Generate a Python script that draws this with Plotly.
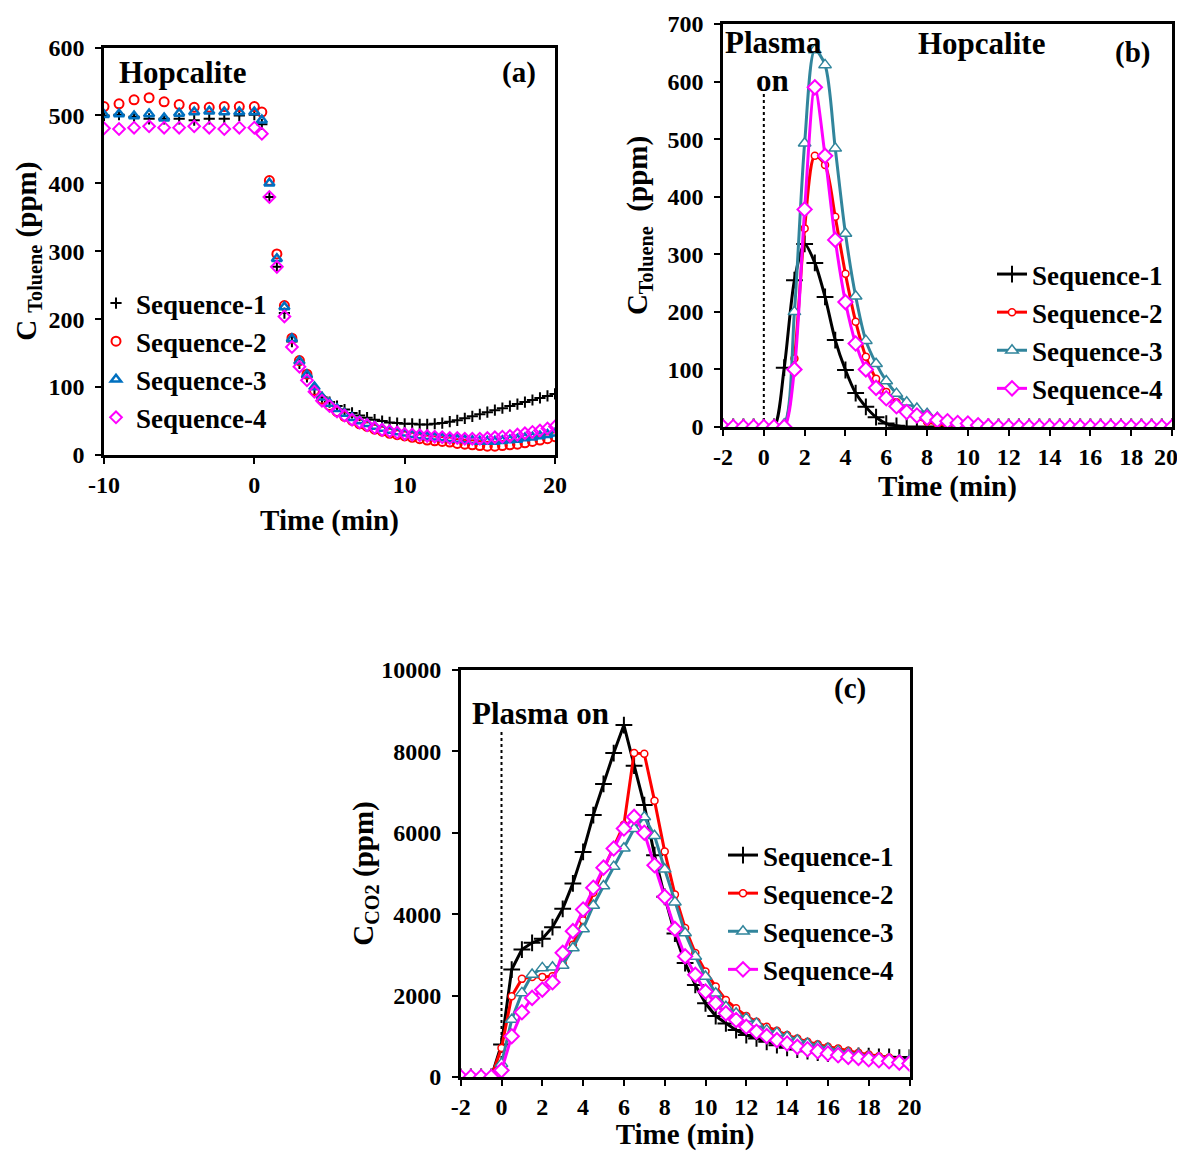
import plotly.graph_objects as go

# ---------------- data ----------------
# Panel (a): toluene concentration, Hopcalite
time_a = [-10, -9, -8, -7, -6, -5, -4, -3, -2, -1, 0,
          0.5, 1.0, 1.5, 2.0, 2.5, 3.0, 3.5, 4.0, 4.5, 5.0,
          5.5, 6.0, 6.5, 7.0, 7.5, 8.0, 8.5, 9.0, 9.5, 10.0,
          10.5, 11.0, 11.5, 12.0, 12.5, 13.0, 13.5, 14.0, 14.5, 15.0,
          15.5, 16.0, 16.5, 17.0, 17.5, 18.0, 18.5, 19.0, 19.5, 20.0]
seq1_a = [500, 501, 498, 495, 495, 495, 493, 495, 495, 500, 501,
          487, 380, 277, 209, 167, 135, 115, 97, 85, 78,
          72, 67, 62, 58, 55, 52, 50, 48, 47, 46,
          46, 45, 45, 46, 47, 49, 51, 54, 57, 60,
          63, 66, 69, 72, 75, 78, 81, 84, 87, 90]
seq2_a = [513, 517, 523, 526, 520, 516, 512, 512, 513, 513, 513,
          505, 404, 296, 220, 172, 139, 119, 95, 82, 73,
          64, 57, 51, 46, 42, 38, 35, 32, 30, 28,
          26, 24, 22, 21, 20, 19, 17, 16, 15, 14,
          13, 13, 14, 15, 16, 18, 20, 22, 24, 27]
seq3_a = [501, 502, 499, 502, 496, 503, 505, 506, 505, 505, 505,
          493, 400, 289, 218, 171, 138, 118, 100, 85, 76,
          68, 61, 55, 50, 46, 42, 39, 36, 34, 32,
          30, 28, 27, 26, 25, 24, 23, 22, 21, 20,
          20, 20, 21, 22, 23, 25, 26, 28, 30, 32]
seq4_a = [481, 480, 482, 484, 482, 482, 484, 482, 480, 482, 482,
          473, 380, 277, 204, 159, 130, 110, 93, 80, 72,
          64, 58, 52, 48, 44, 40, 37, 35, 33, 31,
          30, 29, 28, 27, 26, 25, 25, 24, 24, 24,
          25, 26, 27, 28, 30, 32, 34, 36, 39, 42]

# Panels (b) and (c): time after plasma on
time_bc = [-2.0, -1.5, -1.0, -0.5, 0.0, 0.5, 1.0, 1.5, 2.0, 2.5,
           3.0, 3.5, 4.0, 4.5, 5.0, 5.5, 6.0, 6.5, 7.0, 7.5,
           8.0, 8.5, 9.0, 9.5, 10.0, 10.5, 11.0, 11.5, 12.0, 12.5,
           13.0, 13.5, 14.0, 14.5, 15.0, 15.5, 16.0, 16.5, 17.0, 17.5,
           18.0, 18.5, 19.0, 19.5, 20.0]

# Panel (b): toluene (ppm)
seq1_b = [0, 0, 0, 0, 0, 0, 103, 255, 318, 285,
          226, 151, 99, 59, 35, 17, 6, 2, 0, 0,
          0, 0, 0, 0, 0, 0, 0, 0, 0, 0,
          0, 0, 0, 0, 0, 0, 0, 0, 0, 0,
          0, 0, 0, 0, 0]
seq2_b = [0, 0, 0, 0, 0, 0, 3, 119, 345, 471,
          455, 365, 266, 183, 122, 84, 61, 43, 28, 16,
          9, 5, 3, 1, 0, 0, 0, 0, 0, 0,
          0, 0, 0, 0, 0, 0, 0, 0, 0, 0,
          0, 0, 0, 0, 0]
seq3_b = [0, 0, 0, 0, 0, 0, 5, 200, 493, 655,
          629, 484, 336, 227, 150, 110, 80, 58, 43, 32,
          23, 16, 11, 7, 4, 2, 1, 0, 0, 0,
          0, 0, 0, 0, 0, 0, 0, 0, 0, 0,
          0, 0, 0, 0, 0]
seq4_b = [0, 0, 0, 0, 0, 0, 0, 100, 378, 590,
          471, 325, 217, 145, 100, 68, 50, 36, 26, 20,
          16, 12, 10, 7, 6, 3, 1, 0, 0, 0,
          0, 0, 0, 0, 0, 0, 0, 0, 0, 0,
          0, 0, 0, 0, 0]

# Panel (c): CO2 (ppm)
seq1_c = [0, 0, 0, 0, 800, 2640, 3132, 3296, 3395, 3682,
          4133, 4756, 5531, 6436, 7202, 7959, 8648, 7650, 6680, 5450,
          4428, 3523, 2798, 2263, 1811, 1498, 1317, 1152, 1029, 947,
          864, 782, 716, 675, 634, 601, 576, 551, 535, 519,
          510, 494, 494, 477, 477]
seq2_c = [0, 0, 0, 0, 713, 1984, 2411, 2460, 2460, 2476,
          2790, 3250, 3852, 4527, 5103, 5638, 6200, 7960, 7940, 6790,
          5539, 4486, 3663, 3045, 2593, 2222, 1893, 1687, 1498, 1358,
          1235, 1136, 1029, 947, 864, 807, 741, 700, 642, 593,
          551, 510, 477, 428, 370]
seq3_c = [0, 0, 0, 0, 328, 1410, 2066, 2517, 2681, 2698,
          2740, 3170, 3638, 4214, 4691, 5169, 5620, 6100, 6390, 5926,
          5103, 4296, 3539, 2963, 2469, 2058, 1728, 1564, 1440, 1317,
          1152, 1086, 988, 905, 823, 757, 700, 642, 593, 551,
          510, 469, 436, 412, 412]
seq4_c = [0, 0, 0, 0, 164, 1000, 1591, 1943, 2148, 2329,
          3050, 3583, 4115, 4650, 5144, 5613, 6107, 6390, 6000, 5202,
          4428, 3638, 2963, 2510, 2099, 1811, 1564, 1399, 1235, 1111,
          1004, 905, 823, 741, 683, 634, 576, 535, 494, 469,
          436, 412, 387, 354, 329]

series_names = ["Sequence-1", "Sequence-2", "Sequence-3", "Sequence-4"]

# tick labels (hyphen minus, as in the reference)
ticks_a = [-10, 0, 10, 20]
ticklabels_a = ["-10", "0", "10", "20"]
ticks_bc = [-2, 0, 2, 4, 6, 8, 10, 12, 14, 16, 18, 20]
ticklabels_b = ["-2", "0", "2", "4", "6", "8", "10", "12", "14", "16", "18", "20\u00a0\u00a0"]
ticklabels_c = ["-2", "0", "2", "4", "6", "8", "10", "12", "14", "16", "18", "20"]

# "Plasma on" marker lines
plasma_on_x = [0, 0]
plasma_on_b = [0, 585]
plasma_on_c = [0, 8500]

# ---------------- styling ----------------
PAGE_W, PAGE_H = 1185, 1151
OFF = 8  # default page margin around the plot
W, H = PAGE_W - OFF, PAGE_H - OFF
FONT = "Liberation Serif"
BLACK = "#000000"
RED = "#FF0000"
BLUE = "#0070C0"
TEAL = "#31859C"
MAGENTA = "#FF00FF"


def px(x):
    return (x - OFF) / W


def py(y):
    return 1 - (y - OFF) / H


fig = go.Figure()

# ---- panel (a): markers only
a_styles = [
    dict(symbol="cross-thin", size=8, color=BLACK, line=dict(color=BLACK, width=2)),
    dict(symbol="circle-open", size=9, color=RED, line=dict(color=RED, width=2)),
    dict(symbol="triangle-up-open", size=9, color=BLUE, line=dict(color=BLUE, width=2.5)),
    dict(symbol="diamond-open", size=9, color=MAGENTA, line=dict(color=MAGENTA, width=2)),
]
for name, ys, st in zip(series_names, [seq1_a, seq2_a, seq3_a, seq4_a], a_styles):
    fig.add_trace(go.Scatter(x=time_a, y=ys, mode="markers", name=name, marker=st,
                             xaxis="x", yaxis="y", legend="legend"))

# ---- panel (b): smoothed lines + markers
line_colors = [BLACK, RED, TEAL, MAGENTA]
bc_markers = [
    dict(symbol="cross-thin", size=12, color=BLACK, line=dict(color=BLACK, width=2)),
    dict(symbol="circle", size=7, color="white", line=dict(color=RED, width=1.5)),
    dict(symbol="triangle-up", size=11, color="white", line=dict(color=TEAL, width=1.5)),
    dict(symbol="diamond", size=11, color="white", line=dict(color=MAGENTA, width=2)),
]

fig.add_trace(go.Scatter(x=plasma_on_x, y=plasma_on_b, mode="lines", showlegend=False,
                         line=dict(color=BLACK, width=2, dash="dot"), xaxis="x2", yaxis="y2"))
for name, ys, c, mk in zip(series_names, [seq1_b, seq2_b, seq3_b, seq4_b], line_colors, bc_markers):
    fig.add_trace(go.Scatter(x=time_bc, y=ys, mode="lines+markers", name=name,
                             line=dict(color=c, width=3, shape="spline", smoothing=0.8),
                             marker=mk, xaxis="x2", yaxis="y2", legend="legend2"))

# ---- panel (c): lines + markers
fig.add_trace(go.Scatter(x=plasma_on_x, y=plasma_on_c, mode="lines", showlegend=False,
                         line=dict(color=BLACK, width=2, dash="dot"), xaxis="x3", yaxis="y3"))
for name, ys, c, mk in zip(series_names, [seq1_c, seq2_c, seq3_c, seq4_c], line_colors, bc_markers):
    fig.add_trace(go.Scatter(x=time_bc, y=ys, mode="lines+markers", name=name,
                             line=dict(color=c, width=3),
                             marker=mk, xaxis="x3", yaxis="y3", legend="legend3"))

tickfont = dict(family=FONT, size=24, color="black", weight="bold")
titlefont = dict(family=FONT, size=29, color="black", weight="bold")
legfont = dict(family=FONT, size=27, color="black", weight="bold")

common_axis = dict(showline=True, linewidth=2.5, linecolor="black", mirror=True,
                   ticks="outside", ticklen=6, tickwidth=2, tickcolor="black",
                   showgrid=False, zeroline=False, tickfont=tickfont,
                   automargin=False, tickformat="d", ticklabeloverflow="allow")
y_extra = dict(ticklabelstandoff=6)

ytitle_tol_a = "C <sub>Toluene</sub> (ppm)"
ytitle_tol_b = "C<sub>Toluene</sub>  (ppm)"
ytitle_co2 = "C<sub>CO2</sub> (ppm)"

fig.update_layout(
    width=W, height=H,
    margin=dict(l=0, r=0, t=0, b=0, autoexpand=False),
    paper_bgcolor="white", plot_bgcolor="white",
    font=dict(family=FONT, color="black"),
    xaxis=dict(domain=[px(104), px(555)], range=[-10, 20], anchor="y",
               tickmode="array", tickvals=ticks_a, ticktext=ticklabels_a,
               title=dict(text="Time (min)", font=titlefont, standoff=14), **common_axis),
    yaxis=dict(domain=[py(455), py(47.5)], range=[0, 600], dtick=100, anchor="x",
               title=dict(text=ytitle_tol_a, font=titlefont, standoff=4), **common_axis, **y_extra),
    xaxis2=dict(domain=[px(723), px(1172)], range=[-2, 20], anchor="y2",
                tickmode="array", tickvals=ticks_bc, ticktext=ticklabels_b,
                title=dict(text="Time (min)", font=titlefont, standoff=0), **common_axis),
    yaxis2=dict(domain=[py(427), py(24)], range=[0, 700], dtick=100, anchor="x2",
                title=dict(text=ytitle_tol_b, font=titlefont, standoff=12), **common_axis, **y_extra),
    xaxis3=dict(domain=[px(460.7), px(909.5)], range=[-2, 20], anchor="y3",
                tickmode="array", tickvals=ticks_bc, ticktext=ticklabels_c,
                title=dict(text="Time (min)", font=titlefont, standoff=2), **common_axis),
    yaxis3=dict(domain=[py(1077), py(670)], range=[0, 10000], dtick=2000, anchor="x3",
                title=dict(text=ytitle_co2, font=titlefont, standoff=0), **common_axis, **y_extra),
    legend=dict(x=px(96), y=py(279), xanchor="left", yanchor="top", font=legfont,
                bgcolor="rgba(0,0,0,0)"),
    legend2=dict(x=px(992), y=py(250), xanchor="left", yanchor="top", font=legfont,
                 bgcolor="rgba(0,0,0,0)"),
    legend3=dict(x=px(723), y=py(831), xanchor="left", yanchor="top", font=legfont,
                 bgcolor="rgba(0,0,0,0)"),
)

ann_font = dict(family=FONT, size=31, color="black", weight="bold")
lab_font = dict(family=FONT, size=29, color="black", weight="bold")
annotations = [
    dict(text="Hopcalite", x=px(117), y=py(73), xanchor="left", yanchor="middle", font=ann_font),
    dict(text="(a)", x=px(538), y=py(73), xanchor="right", yanchor="middle", font=lab_font),
    dict(text="Plasma", x=px(723), y=py(42), xanchor="left", yanchor="middle", font=ann_font),
    dict(text="on", x=px(772), y=py(80), xanchor="center", yanchor="middle", font=ann_font),
    dict(text="Hopcalite", x=px(981), y=py(43), xanchor="center", yanchor="middle", font=ann_font),
    dict(text="(b)", x=px(1132), y=py(52), xanchor="center", yanchor="middle", font=lab_font),
    dict(text="(c)", x=px(850), y=py(688), xanchor="center", yanchor="middle", font=lab_font),
    dict(text="Plasma on", x=px(470), y=py(713), xanchor="left", yanchor="middle", font=ann_font),
]
for a in annotations:
    a.update(xref="paper", yref="paper", showarrow=False)
fig.update_layout(annotations=annotations)

fig.write_html("out.html")
